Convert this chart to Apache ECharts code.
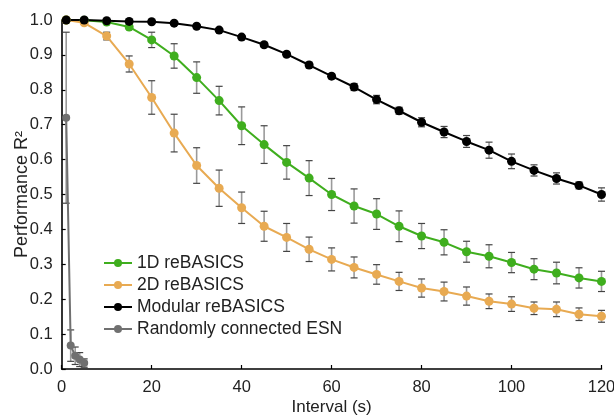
<!DOCTYPE html>
<html>
<head>
<meta charset="utf-8">
<script src="https://cdn.jsdelivr.net/npm/echarts@6/dist/echarts.min.js"></script>
<style>html,body{margin:0;padding:0;background:#fff}#c{width:614px;height:416px}</style>
</head>
<body>
<div id="c"></div>
<script>
var intervals = [1,5,10,15,20,25,30,35,40,45,50,55,60,65,70,75,80,85,90,95,100,105,110,115,120];
var oneD =     [1.0,0.999,0.994,0.980,0.943,0.897,0.835,0.769,0.697,0.643,0.592,0.547,0.500,0.467,0.444,0.409,0.381,0.363,0.336,0.323,0.305,0.286,0.275,0.261,0.251];
var oneDErr =  [0.0,0.002,0.004,0.006,0.022,0.035,0.045,0.041,0.054,0.054,0.048,0.050,0.046,0.049,0.044,0.044,0.036,0.036,0.030,0.033,0.029,0.030,0.031,0.029,0.029];
var twoD =     [1.0,0.992,0.954,0.874,0.778,0.676,0.583,0.518,0.462,0.409,0.377,0.343,0.314,0.291,0.271,0.251,0.232,0.222,0.209,0.194,0.186,0.174,0.171,0.157,0.151];
var twoDErr =  [0.0,0.003,0.011,0.023,0.048,0.054,0.051,0.052,0.045,0.043,0.040,0.035,0.033,0.030,0.028,0.026,0.026,0.027,0.026,0.021,0.021,0.018,0.021,0.018,0.017];
var modular =  [1.0,1.0,0.998,0.996,0.995,0.991,0.982,0.971,0.951,0.929,0.902,0.871,0.839,0.808,0.772,0.740,0.707,0.679,0.652,0.627,0.595,0.569,0.546,0.526,0.500];
var modErr =   [0.0,0.001,0.002,0.002,0.003,0.004,0.004,0.005,0.005,0.006,0.006,0.008,0.007,0.010,0.012,0.010,0.013,0.016,0.017,0.023,0.021,0.016,0.016,0.010,0.019];
var esnX =     [1,2,3,4,5];
var esn =      [0.72,0.067,0.038,0.027,0.017];
var esnErr =   [0.245,0.045,0.025,0.02,0.012];

var names = ['1D reBASICS','2D reBASICS','Modular reBASICS','Randomly connected ESN'];
var colors = ['#3fae1e','#e8aa52','#000000','#707070'];
var xTicks = [0,20,40,60,80,100,120];
var yTicks = [0,0.1,0.2,0.3,0.4,0.5,0.6,0.7,0.8,0.9,1.0];

function pairs(xs, ys){ return xs.map(function(x,i){return [x, ys[i]];}); }
function triples(xs, ys, es){ return xs.map(function(x,i){return [x, ys[i], es[i]];}); }

function errRender(params, api){
  var x = api.value(0), y = api.value(1), e = api.value(2);
  var top = api.coord([x, y + e]);
  var bot = api.coord([x, y - e]);
  var hw = 3.5;
  return {
    type: 'group',
    children: [
      {type:'line', shape:{x1:top[0],y1:top[1],x2:bot[0],y2:bot[1]}, style:{stroke:'#9a9a9a',lineWidth:1.6}},
      {type:'line', shape:{x1:top[0]-hw,y1:top[1],x2:top[0]+hw,y2:top[1]}, style:{stroke:'#444',lineWidth:1.2}},
      {type:'line', shape:{x1:bot[0]-hw,y1:bot[1],x2:bot[0]+hw,y2:bot[1]}, style:{stroke:'#444',lineWidth:1.2}}
    ]
  };
}

var series = [];
var sets = [
  [intervals, oneD, oneDErr],
  [intervals, twoD, twoDErr],
  [intervals, modular, modErr],
  [esnX, esn, esnErr]
];
sets.forEach(function(s, i){
  series.push({
    type:'custom', renderItem: errRender, data: triples(s[0], s[1], s[2]),
    z: 1, silent: true, encode:{x:0,y:1}
  });
});
sets.forEach(function(s, i){
  series.push({
    name: names[i], type:'line', data: pairs(s[0], s[1]),
    symbol: 'circle', symbolSize: i===3 ? 8 : 9,
    lineStyle:{color:colors[i], width:2},
    itemStyle:{color:colors[i]},
    z: 3,
    animation:false
  });
});

var chart = echarts.init(document.getElementById('c'));
chart.setOption({
  animation:false,
  backgroundColor:'#fff',
  textStyle:{fontFamily:'Liberation Sans, Arial, sans-serif'},
  grid:{left:61.7, right:12.5, top:20, bottom:47, containLabel:false, outerBoundsMode:'none'},
  legend:{
    data:names, orient:'vertical', left:98, top:249,
    itemWidth:28, itemHeight:10, itemGap:4,
    textStyle:{fontSize:17.5, color:'#222', fontFamily:'Liberation Sans, Arial, sans-serif'}
  },
  xAxis:{
    type:'value', min:xTicks[0], max:xTicks[xTicks.length-1], interval:20,
    name:'Interval (s)', nameLocation:'middle', nameGap:29.5, nameMoveOverlap:false,
    nameTextStyle:{fontSize:17, color:'#222'},
    axisLine:{lineStyle:{color:'#000', width:1.6}},
    axisTick:{inside:true, length:4, lineStyle:{color:'#000', width:1.2}},
    axisLabel:{fontSize:16.5, color:'#222', margin:9.5},
    splitLine:{show:false}
  },
  yAxis:{
    type:'value', min:yTicks[0], max:yTicks[yTicks.length-1], interval:0.1,
    name:'Performance R\u00B2', nameLocation:'middle', nameGap:31, nameMoveOverlap:false,
    nameTextStyle:{fontSize:18, color:'#222'},
    axisLine:{show:true, lineStyle:{color:'#000', width:1.6}},
    axisTick:{show:true, inside:true, length:4, lineStyle:{color:'#000', width:1.2}},
    axisLabel:{fontSize:16.5, color:'#222', margin:9, formatter:function(v){return v.toFixed(1);}},
    splitLine:{show:false}
  },
  series: series
});
</script>
</body>
</html>
